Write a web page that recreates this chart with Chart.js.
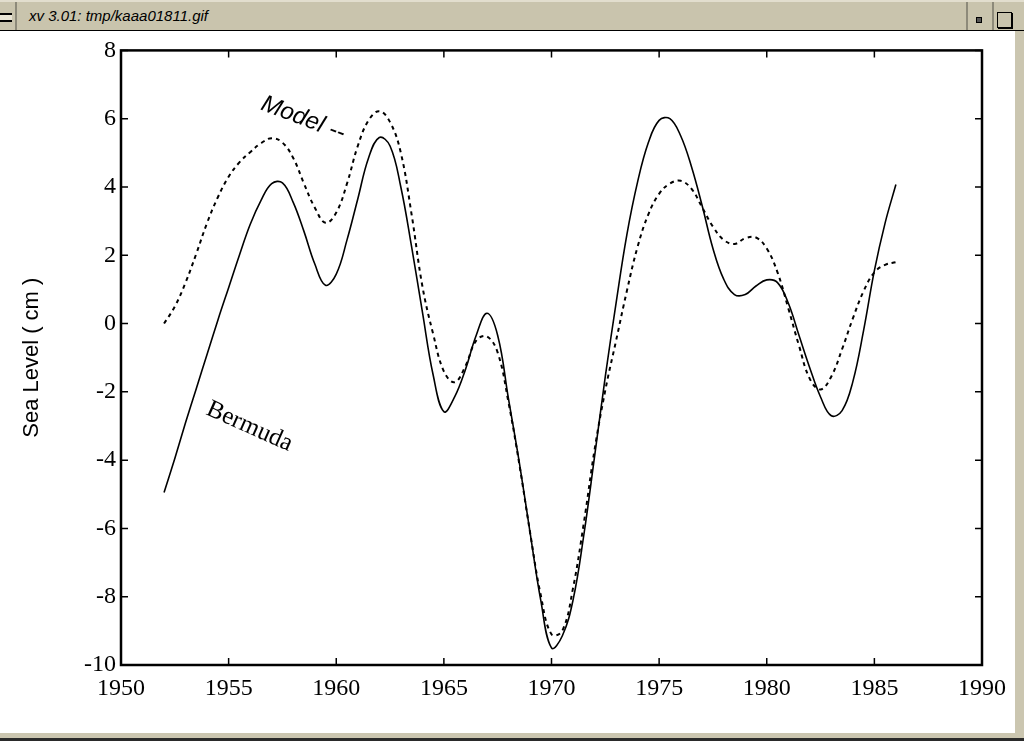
<!DOCTYPE html>
<html>
<head>
<meta charset="utf-8">
<script src="https://cdn.jsdelivr.net/npm/chart.js@4.4.1/dist/chart.umd.min.js"></script>
<style>
html, body { margin: 0; padding: 0; width: 1024px; height: 741px; overflow: hidden; background: #cbc6b0; position: relative; }
#barra { position: absolute; left: 0; top: 0; width: 1024px; height: 31px; background: #c9c4ad; border-top: 2px solid #e2dece; border-bottom: 1px solid #000; box-sizing: border-box; }
#icone { position: absolute; left: 0; top: 11px; width: 12px; height: 5px; border-top: 2px solid #000; border-bottom: 2px solid #000; background: #e8e4d4; }
#sep1 { position: absolute; left: 15px; top: 0; width: 2px; height: 28px; background: #8d8a7a; }
#titulo { position: absolute; left: 29px; top: 5px; font: italic 15px "Liberation Sans", Arial, sans-serif; color: #000; }
#sep2 { position: absolute; left: 966px; top: 0; width: 2px; height: 28px; background: #8d8a7a; }
#sep3 { position: absolute; left: 992px; top: 0; width: 2px; height: 28px; background: #8d8a7a; }
#ponto { position: absolute; left: 976px; top: 15px; width: 4px; height: 4px; border: 1px solid #000; background: #555; }
#caixa { position: absolute; left: 997px; top: 10px; width: 13px; height: 14px; border: 1px solid #000; box-shadow: 1px 1px 0 #000; }
#area { position: absolute; left: 0; top: 31px; width: 1015px; height: 702px; background: #fff; }
#borda { position: absolute; left: 0; top: 738px; width: 1024px; height: 3px; background: #2a2a2a; }
</style>
</head>
<body>
<div id="barra">
  <div id="icone"></div>
  <div id="sep1"></div>
  <div id="titulo">xv 3.01: tmp/kaaa01811.gif</div>
  <div id="sep2"></div>
  <div id="ponto"></div>
  <div id="sep3"></div>
  <div id="caixa"></div>
</div>
<div id="area"><canvas id="grafico" width="1015" height="702"></canvas></div>
<div id="borda"></div>
<script>
// anos (meio em meio ano)
const anos = [
  1952, 1952.5, 1953, 1953.5, 1954, 1954.5, 1955, 1955.5, 1956, 1956.5,
  1957, 1957.5, 1958, 1958.5, 1959, 1959.5, 1960, 1960.5, 1961, 1961.5,
  1962, 1962.5, 1963, 1963.5, 1964, 1964.5, 1965, 1965.5, 1966, 1966.5,
  1967, 1967.5, 1968, 1968.5, 1969, 1969.5, 1970, 1970.5, 1971, 1971.5,
  1972, 1972.5, 1973, 1973.5, 1974, 1974.5, 1975, 1975.5, 1976, 1976.5,
  1977, 1977.5, 1978, 1978.5, 1979, 1979.5, 1980, 1980.5, 1981, 1981.5,
  1982, 1982.5, 1983, 1983.5, 1984, 1984.5, 1985, 1985.5, 1986
];

// nível do mar em Bermuda (linha cheia), cm
const bermuda = [
  -4.95, -3.95, -2.9, -1.9, -0.9, 0.1, 1.05, 2.0, 2.9, 3.6,
  4.1, 4.12, 3.55, 2.7, 1.75, 1.12, 1.45, 2.45, 3.65, 4.85,
  5.45, 5.2, 4.0, 2.25, 0.35, -1.5, -2.58, -2.15, -1.35, -0.35,
  0.3, -0.35, -2.2, -4.05, -6.1, -8.1, -9.5, -9.15, -8.1, -6.2,
  -3.9, -1.55, 0.6, 2.6, 4.15, 5.3, 5.95, 6.0, 5.5, 4.6,
  3.45, 2.2, 1.3, 0.85, 0.85, 1.1, 1.28, 1.2, 0.6, -0.35,
  -1.3, -2.15, -2.7, -2.55, -1.7, -0.2, 1.55, 2.95, 4.07
];

// modelo (linha tracejada), cm
const modelo = [
  0.0, 0.5, 1.2, 2.05, 2.95, 3.7, 4.3, 4.72, 5.02, 5.28,
  5.43, 5.3, 4.85, 4.1, 3.4, 2.95, 3.25, 4.1, 5.2, 5.95,
  6.22, 5.9, 5.0, 3.2, 1.1, -0.3, -1.4, -1.72, -1.25, -0.5,
  -0.38, -0.85, -2.3, -4.1, -6.1, -7.95, -9.1, -9.0, -7.75, -5.85,
  -3.7, -1.95, -0.5, 0.95, 2.25, 3.2, 3.8, 4.1, 4.18, 3.95,
  3.4, 2.84, 2.45, 2.33, 2.5, 2.52, 2.2, 1.5, 0.45, -0.65,
  -1.62, -1.93, -1.55, -0.75, 0.15, 0.95, 1.5, 1.72, 1.8
];

// rótulos escritos dentro do gráfico: texto, ano, valor, ângulo
const rotulos = [
  { texto: "Model --", ano: 1956.45, valor: 6.28, angulo: 21, fonte: "italic 24px 'Liberation Sans'" },
  { texto: "Bermuda", ano: 1953.9, valor: -2.65, angulo: 24, fonte: "25px 'Liberation Serif'" }
];

function pontos(ys) {
  return anos.map((a, i) => ({ x: a, y: ys[i] }));
}

// moldura da caixa + marcas de escala para dentro (estilo matlab)
const moldura = {
  id: "moldura",
  afterDraw(chart) {
    const { ctx, chartArea: a, scales: { x, y } } = chart;
    ctx.save();
    ctx.strokeStyle = "#000";
    ctx.lineWidth = 1.5;
    ctx.beginPath();
    x.ticks.forEach(t => {
      const px = x.getPixelForValue(t.value);
      ctx.moveTo(px, a.bottom); ctx.lineTo(px, a.bottom - 7);
      ctx.moveTo(px, a.top); ctx.lineTo(px, a.top + 7);
    });
    y.ticks.forEach(t => {
      const py = y.getPixelForValue(t.value);
      ctx.moveTo(a.left, py); ctx.lineTo(a.left + 7, py);
      ctx.moveTo(a.right, py); ctx.lineTo(a.right - 7, py);
    });
    ctx.stroke();
    ctx.lineWidth = 2.5;
    ctx.strokeRect(a.left, a.top, a.right - a.left, a.bottom - a.top);
    ctx.restore();
  }
};

const textos = {
  id: "textos",
  afterDraw(chart) {
    const { ctx, scales: { x, y } } = chart;
    rotulos.forEach(r => {
      ctx.save();
      ctx.translate(x.getPixelForValue(r.ano), y.getPixelForValue(r.valor));
      ctx.rotate(r.angulo * Math.PI / 180);
      ctx.font = r.fonte;
      ctx.fillStyle = "#000";
      ctx.textAlign = "left";
      ctx.textBaseline = "alphabetic";
      ctx.fillText(r.texto, 0, 0);
      ctx.restore();
    });
  }
};

const fonteEixo = { family: "'Liberation Serif', 'Times New Roman', serif", size: 24 };

new Chart(document.getElementById("grafico"), {
  type: "line",
  data: {
    datasets: [
      {
        label: "Bermuda",
        data: pontos(bermuda),
        borderColor: "#000",
        borderWidth: 1.6,
        pointRadius: 0,
        fill: false,
        tension: 0.4
      },
      {
        label: "Model",
        data: pontos(modelo),
        borderColor: "#000",
        borderWidth: 2,
        borderDash: [4, 4],
        pointRadius: 0,
        fill: false,
        tension: 0.4
      }
    ]
  },
  options: {
    responsive: false,
    animation: false,
    devicePixelRatio: 1,
    layout: { padding: { top: 15, right: 32, bottom: 0, left: 0 } },
    plugins: {
      legend: { display: false },
      tooltip: { enabled: false }
    },
    scales: {
      x: {
        type: "linear",
        min: 1950,
        max: 1990,
        grid: { display: false, drawTicks: false },
        border: { display: false },
        ticks: {
          stepSize: 5,
          color: "#000",
          font: fonteEixo,
          padding: 9,
          maxRotation: 0,
          autoSkip: false,
          callback: v => String(v)
        },
        afterFit: s => { s.height = 68; }
      },
      y: {
        type: "linear",
        min: -10,
        max: 8,
        grid: { display: false, drawTicks: false },
        border: { display: false },
        ticks: {
          stepSize: 2,
          color: "#000",
          font: fonteEixo,
          padding: 5,
          callback: v => String(v)
        },
        title: {
          display: true,
          text: "Sea Level ( cm )",
          color: "#000",
          font: { family: "'Liberation Sans', Arial, sans-serif", size: 22 },
          padding: { top: 19, bottom: 0 }
        },
        afterFit: s => { s.width = 121; }
      }
    }
  },
  plugins: [moldura, textos]
});
</script>
</body>
</html>
